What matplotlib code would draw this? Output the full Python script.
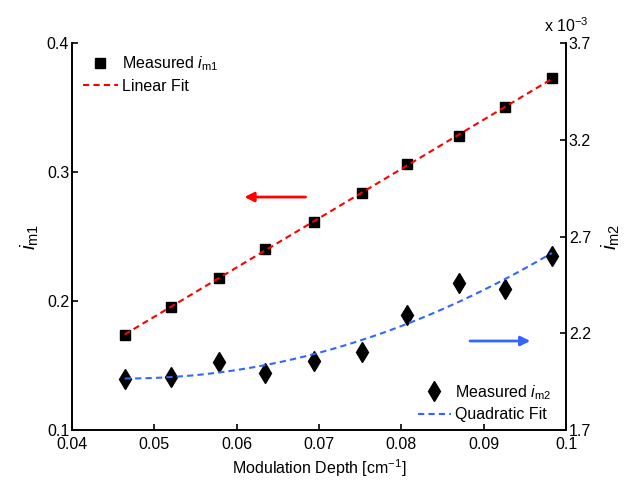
import matplotlib
matplotlib.use('Agg')
import matplotlib.pyplot as plt
import numpy as np

plt.rcParams['font.family'] = ['Liberation Sans', 'DejaVu Sans']
plt.rcParams['mathtext.fontset'] = 'custom'
plt.rcParams['mathtext.rm'] = 'Liberation Sans'
plt.rcParams['mathtext.it'] = 'Liberation Sans:italic'

# modulation depth [cm^-1]
depth = [0.0464, 0.0520, 0.0578, 0.0635, 0.0694, 0.0752, 0.0807, 0.0870, 0.0926, 0.0983]
# measured i_m1 (left axis)
im1 = [0.1736, 0.1956, 0.2176, 0.2401, 0.2615, 0.2840, 0.3062, 0.3279, 0.3502, 0.3726]
# measured i_m2, in units of 1e-3 (right axis)
im2 = [1.962, 1.975, 2.053, 1.996, 2.058, 2.105, 2.296, 2.461, 2.430, 2.601]

left_ticks = [0.1, 0.2, 0.3, 0.4]
right_ticks = [1.7, 2.2, 2.7, 3.2, 3.7]
x_ticks = [0.04, 0.05, 0.06, 0.07, 0.08, 0.09, 0.1]

red = '#ff0000'
blue = '#3366ff'
dash = (0, (3, 2))

fig = plt.figure(figsize=(6.41, 4.86), dpi=100)
ax = fig.add_axes([0.1123, 0.1152, 0.7707, 0.7963])
ax2 = ax.twinx()

x = np.array(depth)
p1 = np.polyfit(x, im1, 1)
p2 = np.polyfit(x, im2, 2)
xf = np.linspace(x[0], x[-1], 200)

h1, = ax.plot(depth, im1, 's', color='k', markersize=7.5, label=r'Measured $i_{\mathrm{m1}}$')
h2, = ax.plot(xf, np.polyval(p1, xf), color=red, lw=1.5, ls=dash, label='Linear Fit')
h3, = ax2.plot(depth, im2, 'd', color='k', markersize=10, label=r'Measured $i_{\mathrm{m2}}$')
h4, = ax2.plot(xf, np.polyval(p2, xf), color=blue, lw=1.5, ls=dash, label='Quadratic Fit')

ax.set_xlim(0.04, 0.1)
ax.set_ylim(0.1, 0.4)
ax2.set_ylim(1.7, 3.7)
ax.set_xticks(x_ticks)
ax.set_xticklabels(['0.04', '0.05', '0.06', '0.07', '0.08', '0.09', '0.1'])
ax.set_yticks(left_ticks)
ax.set_yticklabels(['0.1', '0.2', '0.3', '0.4'])
ax2.set_yticks(right_ticks)
ax2.set_yticklabels(['1.7', '2.2', '2.7', '3.2', '3.7'])

for a in (ax, ax2):
    a.spines['top'].set_visible(False)
    for s in a.spines.values():
        s.set_linewidth(1.2)
    a.tick_params(direction='in', length=4, width=1.2, labelsize=11.5, pad=2)
ax.tick_params(axis='x', pad=5)

ax.set_xlabel(r'Modulation Depth [cm$^{-1}$]', fontsize=11.5, labelpad=4)
ax.set_ylabel(r'$i_{\mathrm{m1}}$', fontsize=15, labelpad=4)
ax2.set_ylabel(r'$i_{\mathrm{m2}}$', fontsize=15, labelpad=6)
ax2.text(1.0, 1.02, r'x 10$^{-3}$', transform=ax2.transAxes, fontsize=11.5,
         ha='center', va='bottom')

# arrows pointing to the matching axis
ax.annotate('', xy=(0.0606, 0.2806), xytext=(0.0687, 0.2806),
            arrowprops=dict(arrowstyle='-|>', color=red, lw=2, mutation_scale=14))
ax.annotate('', xy=(0.0960, 0.169), xytext=(0.0880, 0.169),
            arrowprops=dict(arrowstyle='-|>', color=blue, lw=2, mutation_scale=14))

ax.legend(handles=[h1, h2], loc='upper left', frameon=False, fontsize=11.5,
          bbox_to_anchor=(0.022, 0.97), borderpad=0, borderaxespad=0,
          handlelength=2.2, handletextpad=0.25, labelspacing=0.35)
ax2.legend(handles=[h3, h4], loc='lower right', frameon=False, fontsize=11.5,
           bbox_to_anchor=(0.97, 0.02), borderpad=0, borderaxespad=0,
           handlelength=2.1, handletextpad=0.25, labelspacing=0.35)

fig.savefig('out.png', dpi=100)
